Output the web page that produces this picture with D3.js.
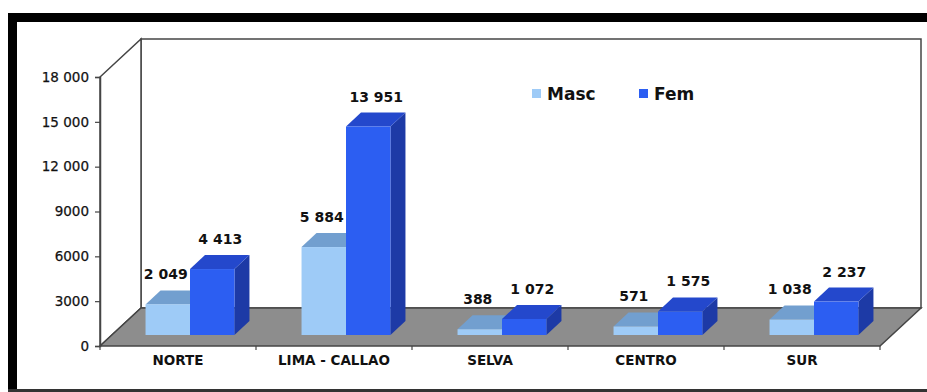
<!DOCTYPE html>
<html>
<head>
<meta charset="utf-8">
<script src="https://cdn.jsdelivr.net/npm/d3@7"></script>
<style>
  html, body { margin: 0; padding: 0; background: #fff; }
  svg { display: block; }
  text { font-family: "DejaVu Sans", Verdana, sans-serif; fill: #111; }
</style>
</head>
<body>
<svg id="chart" width="927" height="392"></svg>
<script>
// Poblacion por region y sexo
const categories = ["NORTE", "LIMA - CALLAO", "SELVA", "CENTRO", "SUR"];
const seriesNames = ["Masc", "Fem"];
const masc = [2049, 5884, 388, 571, 1038];
const fem = [4413, 13951, 1072, 1575, 2237];
const tickValues = [0, 3000, 6000, 9000, 12000, 15000, 18000];
const tickLabels = ["0", "3000", "6000", "9000", "12 000", "15 000", "18 000"];

const W = 927, H = 392;
const svg = d3.select("#chart");

// plot box (front plane) and 3D depth
const x0 = 100, x1 = 880, yBottom = 346, yTop = 77;
const depth = { dx: 41, dy: -38 };          // floor / wall depth
const barShift = { dx: 12, dy: -11 };       // bars' front plane inside the floor
const barDepth = { dx: 15, dy: -14 };       // thickness of each bar

const colors = {
  Masc: { front: "#9ecbf7", top: "#729fcf", side: "#5a86be" },
  Fem:  { front: "#2c5ef2", top: "#2448cc", side: "#1d3aa6" }
};

const y = d3.scaleLinear().domain([0, 18000]).range([yBottom, yTop]);
const xBand = d3.scaleBand().domain(categories).range([x0, x1])
  .paddingInner(0.43).paddingOuter(0.215);
const xSub = d3.scaleBand().domain(seriesNames).range([0, xBand.bandwidth()]);

const fmt = d3.formatLocale({ decimal: ",", thousands: " ", grouping: [3], currency: ["", ""] }).format(",d");

// outer frame
svg.append("rect").attr("x", 0).attr("y", 0).attr("width", W).attr("height", H).attr("fill", "#fff");
svg.append("rect").attr("x", 8).attr("y", 13).attr("width", W - 8).attr("height", 9).attr("fill", "#000");
svg.append("rect").attr("x", 8).attr("y", 13).attr("width", 9).attr("height", H - 13).attr("fill", "#000");
svg.append("rect").attr("x", 8).attr("y", 389).attr("width", W - 8).attr("height", 3).attr("fill", "#333");

const wallStroke = "#454545";
const pts = p => p.map(d => d.join(",")).join(" ");

// back wall
svg.append("polygon")
  .attr("points", pts([[x0 + depth.dx, yTop + depth.dy], [x1 + depth.dx, yTop + depth.dy],
                       [x1 + depth.dx, yBottom + depth.dy], [x0 + depth.dx, yBottom + depth.dy]]))
  .attr("fill", "#fff").attr("stroke", wallStroke).attr("stroke-width", 1.5);

// left wall
svg.append("polygon")
  .attr("points", pts([[x0, yBottom], [x0, yTop], [x0 + depth.dx, yTop + depth.dy], [x0 + depth.dx, yBottom + depth.dy]]))
  .attr("fill", "#fff").attr("stroke", wallStroke).attr("stroke-width", 1.5);

// floor
svg.append("polygon")
  .attr("points", pts([[x0, yBottom], [x1, yBottom], [x1 + depth.dx, yBottom + depth.dy], [x0 + depth.dx, yBottom + depth.dy]]))
  .attr("fill", "#8d8d8d").attr("stroke", wallStroke).attr("stroke-width", 1.5);

// value axis
const yAxis = d3.axisLeft(y).tickValues(tickValues).tickSize(5).tickPadding(6)
  .tickFormat((d, i) => tickLabels[i]);
const gy = svg.append("g").attr("transform", `translate(${x0},0)`).call(yAxis);
gy.select(".domain").attr("stroke", wallStroke).attr("stroke-width", 1.5);
gy.selectAll(".tick line").attr("stroke", wallStroke).attr("stroke-width", 1.2);
gy.selectAll(".tick text").attr("font-size", 13.5).attr("font-family", "DejaVu Sans, sans-serif")
  .attr("fill", "#1a1a1a").attr("stroke", "#1a1a1a").attr("stroke-width", 0.25);

// category axis
const xAxis = d3.axisBottom(xBand).tickSize(0).tickPadding(9);
const gx = svg.append("g").attr("transform", `translate(0,${yBottom})`).call(xAxis);
gx.select(".domain").remove();
gx.selectAll(".tick text").attr("font-size", 13.5).attr("font-weight", "bold")
  .attr("font-family", "DejaVu Sans, sans-serif").attr("fill", "#111");
// boundary ticks between categories
svg.append("g").selectAll("line")
  .data(d3.range(categories.length + 1))
  .join("line")
  .attr("x1", i => x0 + i * xBand.step()).attr("x2", i => x0 + i * xBand.step())
  .attr("y1", yBottom).attr("y2", yBottom + 4)
  .attr("stroke", wallStroke).attr("stroke-width", 1.2);

// 3D bars
const rows = [];
categories.forEach((c, i) => {
  rows.push({ cat: c, s: "Masc", v: masc[i] });
  rows.push({ cat: c, s: "Fem", v: fem[i] });
});

const bars = svg.append("g");
rows.forEach(d => {
  const left = xBand(d.cat) + xSub(d.s) + barShift.dx;
  const right = left + xSub.bandwidth();
  const top = y(d.v) + barShift.dy;
  const bottom = y(0) + barShift.dy;
  const c = colors[d.s];
  const g = bars.append("g");
  // side face
  g.append("polygon")
    .attr("points", pts([[right, top], [right + barDepth.dx, top + barDepth.dy],
                         [right + barDepth.dx, bottom + barDepth.dy], [right, bottom]]))
    .attr("fill", c.side);
  // top face
  g.append("polygon")
    .attr("points", pts([[left, top], [left + barDepth.dx, top + barDepth.dy],
                         [right + barDepth.dx, top + barDepth.dy], [right, top]]))
    .attr("fill", c.top);
  // front face
  g.append("rect")
    .attr("x", left).attr("y", top).attr("width", right - left).attr("height", bottom - top)
    .attr("fill", c.front);
});

// value labels
const labelDx = { Masc: -2, Fem: 8 };
svg.append("g").selectAll("text")
  .data(rows)
  .join("text")
  .attr("x", d => xBand(d.cat) + xSub(d.s) + barShift.dx + xSub.bandwidth() / 2 + labelDx[d.s])
  .attr("y", d => y(d.v) + barShift.dy - 25)
  .attr("text-anchor", "middle")
  .attr("font-size", 14)
  .attr("font-weight", "bold")
  .text(d => fmt(d.v));

// legend
const legend = svg.append("g");
const legendX = { Masc: 532, Fem: 639 };
seriesNames.forEach(s => {
  legend.append("rect").attr("x", legendX[s]).attr("y", 89).attr("width", 9).attr("height", 9)
    .attr("fill", colors[s].front);
  legend.append("text").attr("x", legendX[s] + 15).attr("y", 99.5)
    .attr("font-size", 17).attr("font-weight", "bold").text(s);
});
</script>
</body>
</html>
